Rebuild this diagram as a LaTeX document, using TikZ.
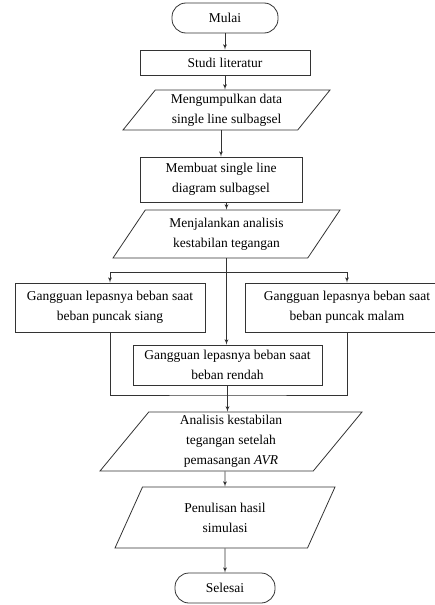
\documentclass[tikz,border=0pt]{standalone}
\usepackage{fontspec}
\setmainfont{Liberation Serif}
\usepackage{tikz}
\usetikzlibrary{arrows,shapes.geometric}
\tikzstyle{terminal}=[draw,rectangle,rounded corners=14pt,minimum height=30pt,inner sep=0pt]
\tikzstyle{process}=[draw,rectangle,align=center,inner sep=0pt]
\tikzstyle{io}=[draw,trapezium,trapezium left angle=45,trapezium right angle=135,trapezium stretches body,align=center,inner sep=0pt]
\tikzstyle{line} = [draw, -latex']

\begin{document}
\begin{tikzpicture}[x=1pt,y=-1pt,line width=0.8pt,black!80,every node/.style={font=\fontsize{13.5}{20}\selectfont,text=black}]
  \useasboundingbox (0,0) rectangle (435,605);
  \node[terminal,minimum width=106pt] (mulai) at (225,18) {Mulai};
  \node[process,minimum width=170pt,minimum height=25pt] (studi) at (225,62.5) {Studi literatur};
  \node[io,minimum width=207pt,minimum height=40pt] (data) at (226.5,110) {Mengumpulkan data\\single line sulbagsel};
  \node[process,minimum width=162pt,minimum height=45pt] (diagram) at (221,179.5) {Membuat single line\\diagram sulbagsel};
  \node[io,minimum width=227pt,minimum height=48pt] (analisis) at (226.5,234) {Menjalankan analisis\\kestabilan tegangan};
  \node[process,minimum width=190pt,minimum height=49pt] (siang) at (110,307.5) {Gangguan lepasnya beban saat\\beban puncak siang};
  \node[process,minimum width=204pt,minimum height=49pt] (malam) at (347,307.5) {Gangguan lepasnya beban saat\\beban puncak malam};
  \node[process,minimum width=189pt,minimum height=40pt] (rendah) at (227.5,365) {Gangguan lepasnya beban saat\\beban rendah};
  \node[io,trapezium left angle=47,trapezium right angle=133,minimum width=262pt,minimum height=59pt] (avr) at (231,441.5) {Analisis kestabilan\\tegangan setelah\\pemasangan \textit{AVR}};
  \node[io,trapezium left angle=47,trapezium right angle=133,minimum width=220pt,minimum height=61pt] (hasil) at (225,517.5) {Penulisan hasil\\simulasi};
  \node[terminal,minimum width=100pt] (selesai) at (225,588) {Selesai};
  % main flow
  \path [line] (mulai) -- (studi);
  \path [line] (studi) -- (studi.south |- data.north);
  \path [line] (data.south -| diagram.north) -- (diagram);
  \path [line] (diagram.south -| analisis.north) -- (analisis);
  % branches
  \coordinate (split) at (226.5,272);
  \coordinate (merge) at (227,395);
  \path [line] (analisis.south) -- (analisis.south |- rendah.north);
  \path [line] (split) -| (siang.north);
  \path [line] (split) -| (malam.north);
  \draw (siang.south) |- (merge) -| (malam.south);
  \path [line] (rendah.south) -- (rendah.south |- avr.north);
  \path [line] (avr.south -| hasil.north) -- (hasil);
  \path [line] (hasil) -- (selesai);
\end{tikzpicture}
\end{document}
